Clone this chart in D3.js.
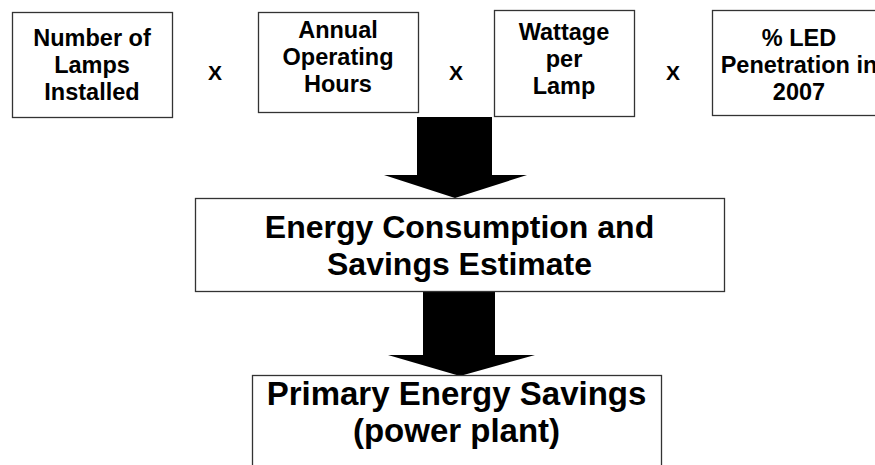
<!DOCTYPE html>
<html>
<head>
<meta charset="UTF-8">
<title>LED savings flow</title>
<script src="https://cdn.jsdelivr.net/npm/d3@7"></script>
<style>
  body { margin: 0; background: #fff; }
  svg { display: block; }
  text { font-family: "Liberation Sans", Arial, sans-serif; font-weight: bold; fill: #000; }
</style>
</head>
<body>
<svg id="flow" width="875" height="465"></svg>
<script>

// factors that get multiplied together
var factors = [
    ["Number of", "Lamps", "Installed"],
    ["Annual", "Operating", "Hours"],
    ["Wattage", "per", "Lamp"],
    ["% LED", "Penetration in", "2007"]
];
var operator = "X";

// results down the page
var results = [
    ["Energy Consumption and", "Savings Estimate"],
    ["Primary Energy Savings", "(power plant)"]
];

// layout (pixels)
var topBoxes = [
    {x0: 12,  x1: 172, y0: 12, y1: 117, base: 46},
    {x0: 258, x1: 418, y0: 12, y1: 112, base: 38},
    {x0: 494, x1: 634, y0: 10, y1: 116, base: 40},
    {x0: 712, x1: 886, y0: 10, y1: 115, base: 46}
];
var resBoxes = [
    {x0: 195, x1: 724, y0: 198, y1: 291, base: 238, lh: 37, size: 32},
    {x0: 252, x1: 661, y0: 375, y1: 472, base: 405, lh: 37, size: 33}
];
var arrows = [
    {sx0: 417, sx1: 492, y0: 117, hy: 175, hx0: 384, hx1: 527, tip: 455, ty: 198},
    {sx0: 423, sx1: 495, y0: 291, hy: 355, hx0: 388, hx1: 535, tip: 460, ty: 376}
];

var svg = d3.select("#flow");

// ARROWS
svg.selectAll("path.arrow")
    .data(arrows)
    .enter().append("path")
    .attr("class", "arrow")
    .attr("fill", "#000")
    .attr("d", function (a) {
        var p = d3.path();
        p.moveTo(a.sx0, a.y0);
        p.lineTo(a.sx1, a.y0);
        p.lineTo(a.sx1, a.hy);
        p.lineTo(a.hx1, a.hy);
        p.lineTo(a.tip, a.ty);
        p.lineTo(a.hx0, a.hy);
        p.lineTo(a.sx0, a.hy);
        p.closePath();
        return p.toString();
    });

// TOP BOXES
var tg = svg.selectAll("g.factor")
    .data(factors)
    .enter().append("g")
    .attr("class", "factor");

tg.append("rect")
    .attr("x", function (d, i) { return topBoxes[i].x0 + 0.5; })
    .attr("y", function (d, i) { return topBoxes[i].y0 + 0.5; })
    .attr("width", function (d, i) { return topBoxes[i].x1 - topBoxes[i].x0; })
    .attr("height", function (d, i) { return topBoxes[i].y1 - topBoxes[i].y0; })
    .attr("fill", "#fff")
    .attr("stroke", "#333")
    .attr("stroke-width", 1.3);

tg.each(function (lines, i) {
    var b = topBoxes[i];
    d3.select(this).selectAll("text")
        .data(lines)
        .enter().append("text")
        .attr("x", (b.x0 + b.x1) / 2)
        .attr("y", function (d, j) { return b.base + j * 27; })
        .attr("text-anchor", "middle")
        .style("font-size", "23.5px")
        .text(function (d) { return d; });
});

// multiplication signs between boxes
svg.selectAll("text.op")
    .data(d3.range(factors.length - 1))
    .enter().append("text")
    .attr("class", "op")
    .attr("x", function (i) { return (topBoxes[i].x1 + topBoxes[i + 1].x0) / 2; })
    .attr("y", 80)
    .attr("text-anchor", "middle")
    .style("font-size", "21px")
    .text(operator);

// RESULT BOXES
var rg = svg.selectAll("g.result")
    .data(results)
    .enter().append("g")
    .attr("class", "result");

rg.append("rect")
    .attr("x", function (d, i) { return resBoxes[i].x0 + 0.5; })
    .attr("y", function (d, i) { return resBoxes[i].y0 + 0.5; })
    .attr("width", function (d, i) { return resBoxes[i].x1 - resBoxes[i].x0; })
    .attr("height", function (d, i) { return resBoxes[i].y1 - resBoxes[i].y0; })
    .attr("fill", "#fff")
    .attr("stroke", "#333")
    .attr("stroke-width", 1.3);

rg.each(function (lines, i) {
    var b = resBoxes[i];
    d3.select(this).selectAll("text")
        .data(lines)
        .enter().append("text")
        .attr("x", (b.x0 + b.x1) / 2)
        .attr("y", function (d, j) { return b.base + j * b.lh; })
        .attr("text-anchor", "middle")
        .style("font-size", b.size + "px")
        .text(function (d) { return d; });
});

</script>
</body>
</html>
